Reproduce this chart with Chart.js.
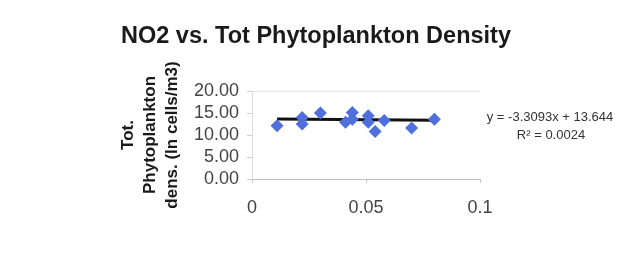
<!DOCTYPE html>
<html>
<head>
<meta charset="utf-8">
<script src="https://cdn.jsdelivr.net/npm/chart.js@4/dist/chart.umd.min.js"></script>
<style>
  html, body { margin: 0; padding: 0; background: #ffffff; }
  #wrap { width: 618px; height: 272px; }
</style>
</head>
<body>
<div id="wrap"><canvas id="c" width="618" height="272"></canvas></div>
<script>
const chartTitle = "NO2 vs. Tot Phytoplankton Density";
const yAxisTitle = ["Tot.", "Phytoplankton", "dens. (ln cells/m3)"];
const xValues = [0.011, 0.022, 0.022, 0.030, 0.041, 0.044, 0.044, 0.051, 0.051, 0.054, 0.058, 0.070, 0.080];
const yValues = [12.1, 14.0, 12.5, 15.0, 12.9, 15.1, 13.6, 14.4, 12.9, 10.8, 13.3, 11.6, 13.6];
const trendX = [0.011, 0.080];
const trendY = [13.61, 13.38];
const equationLines = ["y = -3.3093x + 13.644", "R² = 0.0024"];
const yTicks = [0, 5, 10, 15, 20];
const xTickLabels = {0: "0", 0.05: "0.05", 0.1: "0.1"};

const FONT = "Arial, 'Liberation Sans', sans-serif";

const textPlugin = {
  id: 'textPlugin',
  afterDraw(chart) {
    const ctx = chart.ctx;
    ctx.save();
    ctx.fillStyle = '#1a1a1a';
    ctx.font = "bold 23.5px " + FONT;
    ctx.textAlign = 'center';
    ctx.textBaseline = 'middle';
    ctx.fillText(chartTitle, 316, 37);
    ctx.fillStyle = '#333333';
    ctx.font = "13px " + FONT;
    ctx.fillText(equationLines[0], 550, 117);
    ctx.fillText(equationLines[1], 551, 135);
    ctx.restore();
  }
};

const points = xValues.map((x, i) => ({x: x, y: yValues[i]}));
const trend = trendX.map((x, i) => ({x: x, y: trendY[i]}));

new Chart(document.getElementById('c'), {
  type: 'scatter',
  data: {
    datasets: [
      {
        type: 'line',
        data: trend,
        borderColor: '#111111',
        borderWidth: 3,
        pointRadius: 0,
        fill: false,
        order: 2
      },
      {
        data: points,
        pointStyle: 'rectRot',
        pointRadius: 6.5,
        backgroundColor: '#4f6fdc',
        borderColor: '#4f6fdc',
        borderWidth: 0,
        order: 1
      }
    ]
  },
  options: {
    responsive: false,
    animation: false,
    devicePixelRatio: 1,
    layout: { padding: { left: 0, right: 138, top: 91, bottom: 0 } },
    plugins: {
      legend: { display: false },
      title: { display: false },
      tooltip: { enabled: false }
    },
    scales: {
      x: {
        type: 'linear',
        min: 0,
        max: 0.1,
        afterFit(scale) { scale.height = 93; },
        afterBuildTicks(scale) {
          scale.ticks = Object.keys(xTickLabels).map(v => ({value: Number(v)}));
        },
        ticks: {
          padding: 14,
          autoSkip: false,
          color: '#444444',
          font: { family: FONT, size: 18 },
          callback: (v) => xTickLabels[v] !== undefined ? xTickLabels[v] : String(v),
          maxRotation: 0
        },
        grid: { display: true, drawOnChartArea: false, drawTicks: true, tickLength: 4, color: '#c8c8c8' },
        border: { display: true, color: '#c0c0c0', width: 1 }
      },
      y: {
        type: 'linear',
        min: 0,
        max: 20,
        afterFit(scale) { scale.width = 252; },
        afterBuildTicks(scale) {
          scale.ticks = yTicks.map(v => ({value: v}));
        },
        ticks: {
          padding: 8,
          autoSkip: false,
          color: '#444444',
          font: { family: FONT, size: 18 },
          callback: (v) => Number(v).toFixed(2)
        },
        grid: {
          display: true,
          drawTicks: true,
          tickLength: 5,
          color: (c) => (c.tick && c.tick.value === 20) ? '#e6e6e6' : 'rgba(0,0,0,0)',
          tickColor: '#d0d0d0'
        },
        border: { display: true, color: '#dcdcdc', width: 1 },
        title: {
          display: true,
          text: yAxisTitle,
          color: '#1a1a1a',
          font: { family: FONT, size: 17, weight: 'bold', lineHeight: 1.3 },
          padding: { top: 117, bottom: 0 }
        }
      }
    }
  },
  plugins: [textPlugin]
});
</script>
</body>
</html>
